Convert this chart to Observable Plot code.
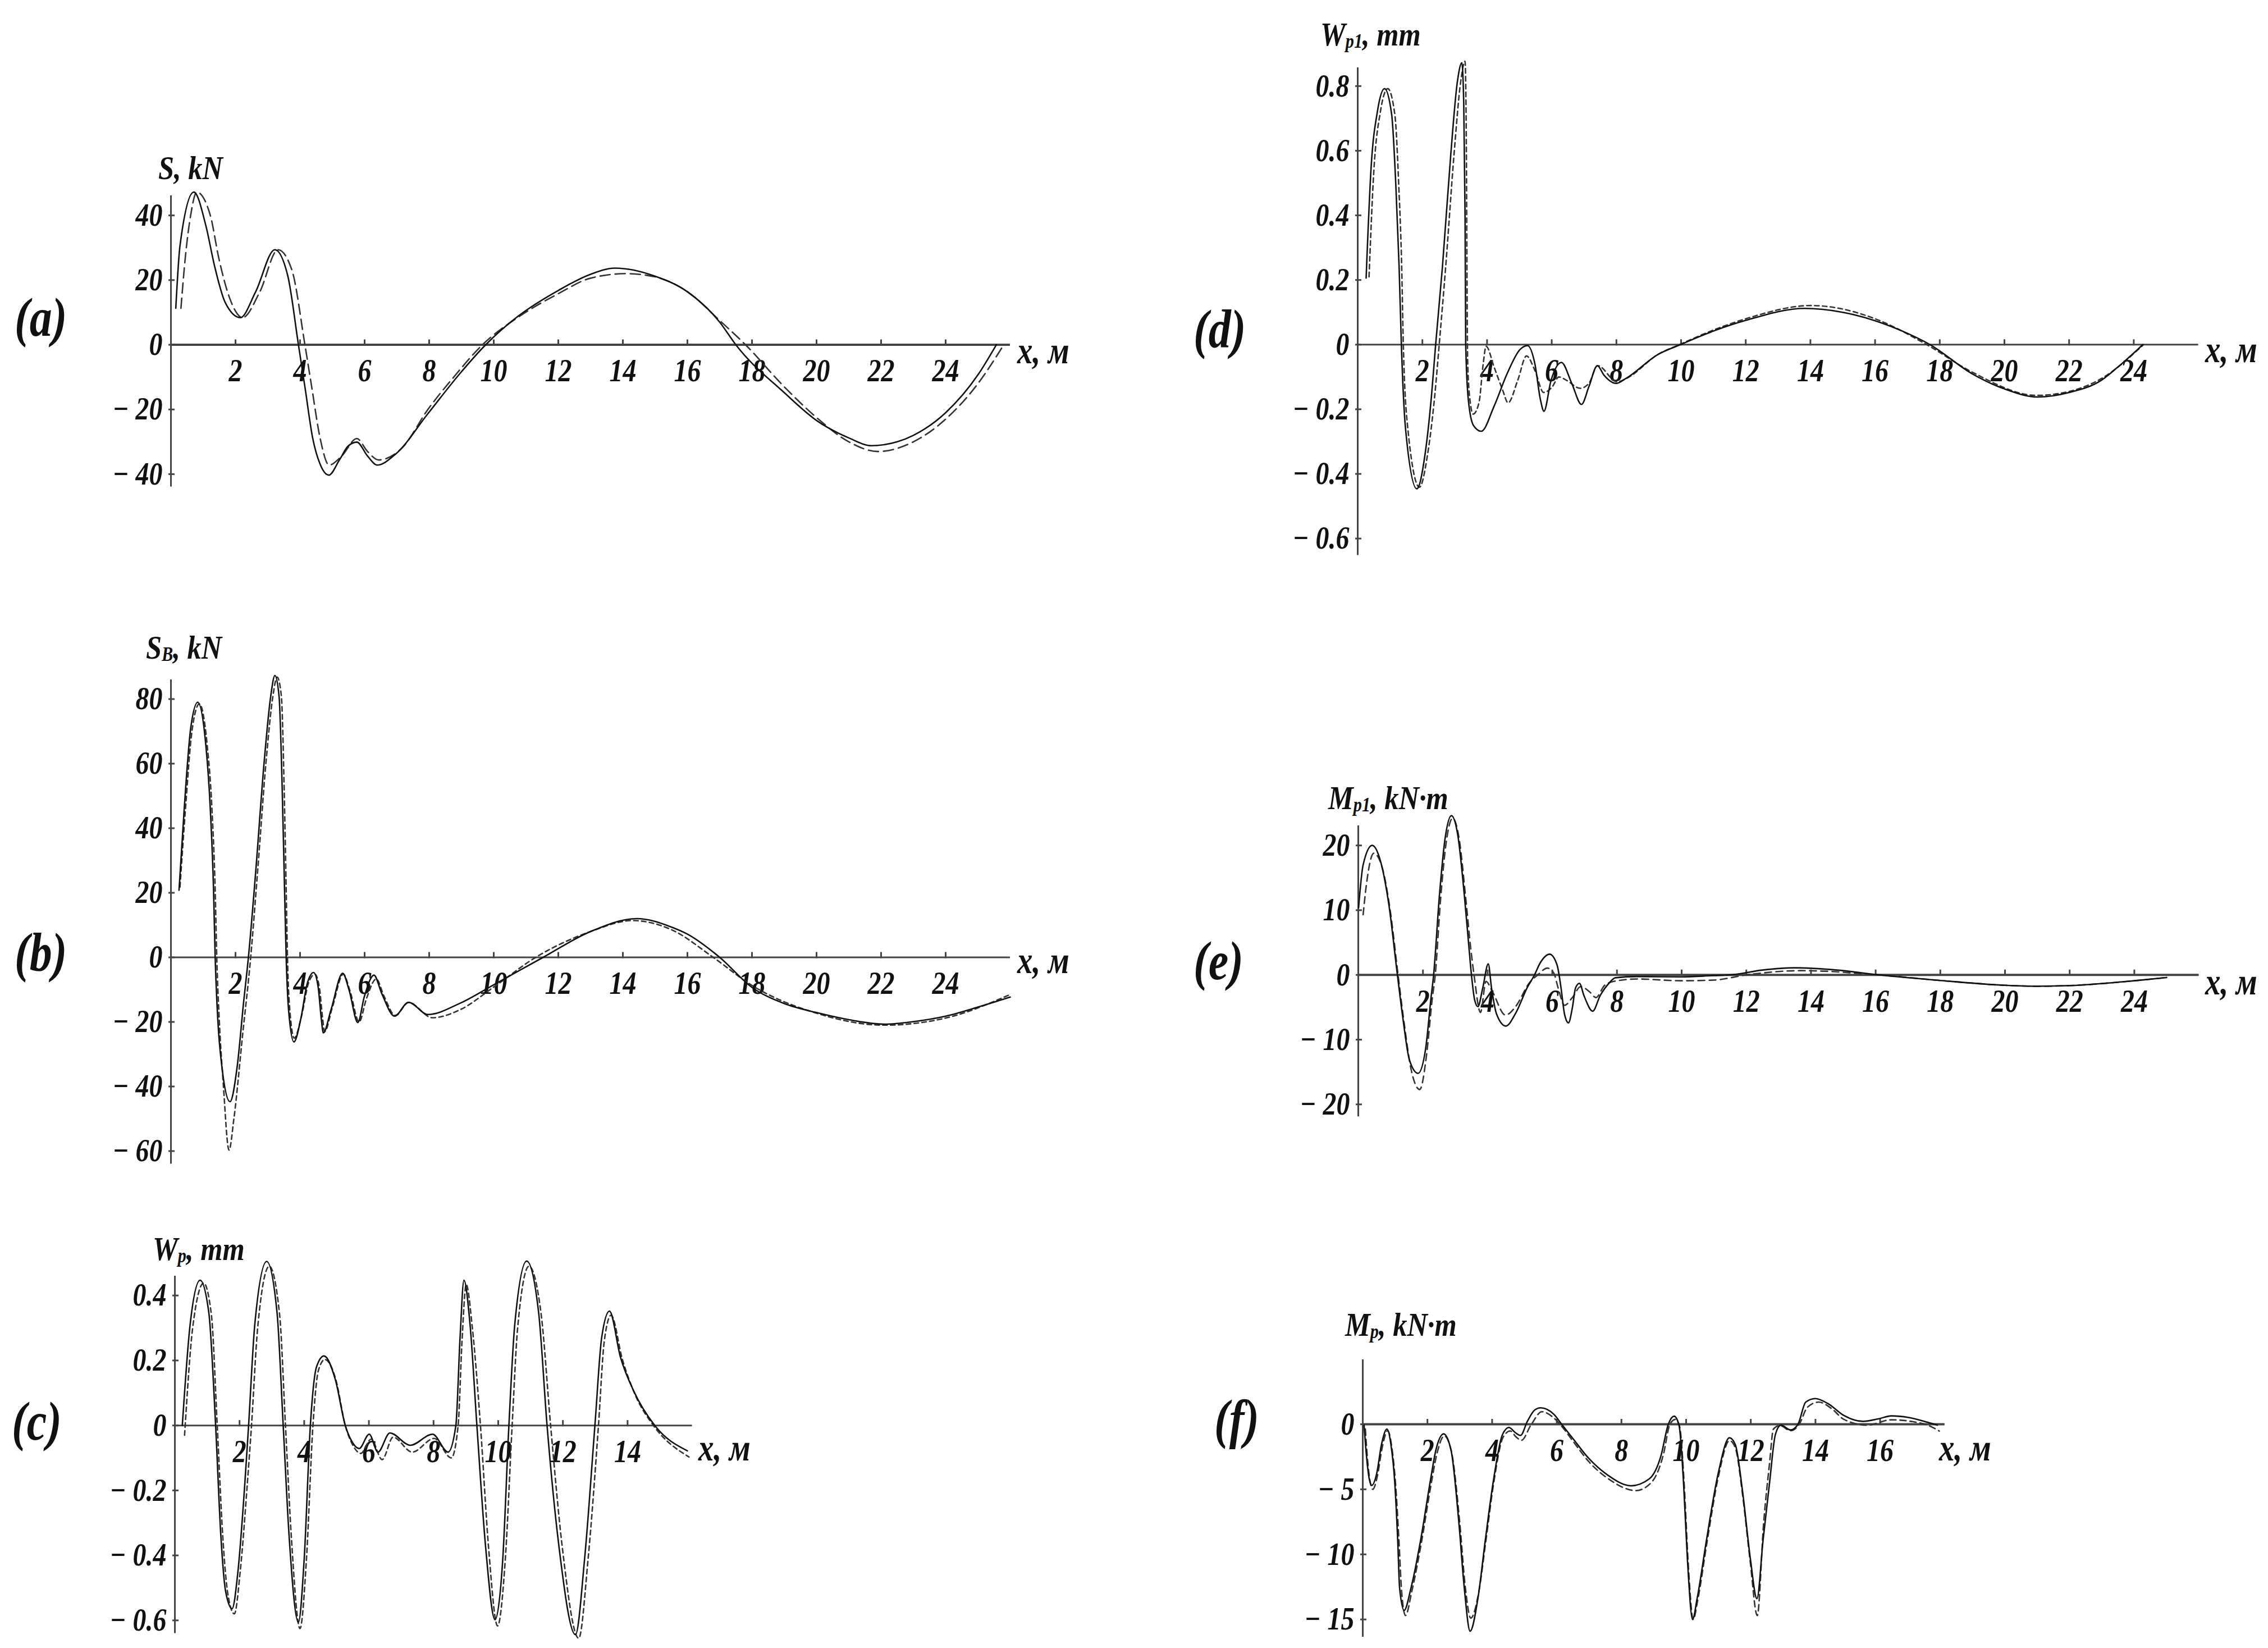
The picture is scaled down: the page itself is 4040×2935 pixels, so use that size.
<!DOCTYPE html>
<html>
<head>
<meta charset="utf-8">
<script src="https://cdn.jsdelivr.net/npm/d3@7"></script>
<script src="https://cdn.jsdelivr.net/npm/@observablehq/plot@0.6"></script>
<style>
  html, body { margin: 0; padding: 0; background: #fff; }
  #root { position: relative; width: 4040px; height: 2935px; background: #fff; overflow: hidden; }
  .lbl { position: absolute; font-family: "Liberation Serif", "DejaVu Serif", serif; font-weight: bold; font-style: italic; line-height: 1; white-space: nowrap; color: #111; transform-origin: 0 84%; }
  .sub { font-size: 0.6em; vertical-align: -0.12em; }
</style>
</head>
<body>
<div id="root"></div>
<script>
// ---------- DATA ----------
// (a) S, kN
const aSolid = [[0.15,11.3],[0.28,30.6],[0.71,47.2],[1.08,36.9],[1.35,24.4],[1.68,13.1],[2.15,8.4],[2.62,16.3],[3.22,29.4],[3.62,21.3],[3.95,0],[4.15,-13],[4.39,-28.8],[4.62,-36.9],[4.89,-40.3],[5.22,-35.6],[5.49,-31.3],[5.76,-30.1],[6.09,-34.4],[6.39,-37.2],[6.96,-33.8],[7.96,-21.3],[8.96,-8.8],[9.75,0],[10.75,8.8],[12,16.8],[13,21.8],[13.75,23.7],[15,21.2],[16,16.4],[17,7],[17.5,0],[19,-14.8],[20,-23.4],[21,-28.8],[21.7,-31.2],[22.5,-30],[23,-28],[24,-21],[25,-9.3],[25.57,0]];
const aDash = [[0.31,11.3],[0.45,27.5],[0.61,40],[0.8,47.2],[1.22,40],[1.48,26.9],[1.82,14.4],[2.22,8.4],[2.75,16.3],[3.32,29.4],[3.75,23],[4.15,0],[4.36,-13],[4.62,-28.8],[4.9,-37.2],[5.29,-34.4],[5.76,-29],[6.09,-33],[6.43,-35.6],[7.16,-31.9],[7.96,-20],[8.76,-10],[9.65,0],[10.75,8.5],[12,15.8],[13,20.6],[14.1,22],[15,21],[16,16.4],[17,7.5],[17.8,0],[19,-13],[20,-22.5],[21,-30],[21.9,-33],[23,-30],[24,-23],[25,-12],[25.8,0]];
const aXTicks = [2,4,6,8,10,12,14,16,18,20,22,24];
const aYTicks = [-40,-20,0,20,40];

// (b) S_B, kN
const bSolid = [[0.25,20.8],[0.41,45.8],[0.61,70.8],[0.83,79],[1.08,65.8],[1.22,45.8],[1.32,20.8],[1.37,0],[1.45,-19],[1.58,-34],[1.83,-44.7],[2.05,-34],[2.25,-14],[2.4,0],[2.62,25.8],[2.89,60.8],[3.09,80.8],[3.22,87.3],[3.35,80.8],[3.45,50.8],[3.52,20.8],[3.57,0],[3.65,-17],[3.81,-26.2],[4.02,-19.2],[4.22,-8.2],[4.42,-4.7],[4.56,-9.2],[4.66,-19.2],[4.72,-23.4],[4.96,-16.2],[5.32,-4.9],[5.52,-10.2],[5.79,-20.2],[5.99,-12.2],[6.29,-5.5],[6.53,-11.2],[6.93,-18.2],[7.36,-13.9],[7.96,-17.7],[8.96,-14.2],[10,-8.5],[11.53,0],[13,8],[14.43,12],[15.5,9.4],[16,7.2],[17,0],[18,-9.3],[19,-14.3],[20,-17.1],[21,-19.3],[22.1,-20.7],[23,-19.9],[24,-18.2],[25,-15.4],[26,-12.3]];
const bDash = [[0.28,21.8],[0.45,46],[0.65,70],[0.88,78.5],[1.12,66],[1.27,46],[1.37,21],[1.42,0],[1.5,-20],[1.62,-39],[1.8,-59.7],[1.95,-50],[2.22,-24],[2.47,0],[2.68,26],[2.95,61],[3.16,81],[3.29,86.8],[3.42,81],[3.51,51],[3.57,21],[3.61,0],[3.68,-16],[3.82,-25],[4.05,-18],[4.26,-8],[4.46,-5.2],[4.6,-9.5],[4.7,-19],[4.76,-23],[5.0,-15.5],[5.34,-5.2],[5.55,-10.5],[5.83,-20],[6.05,-13],[6.36,-6.7],[6.6,-12],[6.95,-18],[7.36,-14],[8.1,-18.7],[8.96,-16.2],[10,-9.2],[11.3,0],[13,8],[14.3,11.4],[15.5,8.6],[16.8,0],[18,-8.7],[20,-17.3],[22.1,-21],[24,-18.8],[26,-11.5]];
const bXTicks = [2,4,6,8,10,12,14,16,18,20,22,24];
const bYTicks = [-60,-40,-20,0,20,40,60,80];

// (c) W_p, mm
const cSolid = [[0.23,0],[0.47,0.309],[0.78,0.447],[1.05,0.347],[1.26,0],[1.42,-0.336],[1.57,-0.511],[1.77,-0.564],[1.95,-0.45],[2.16,-0.184],[2.28,0],[2.47,0.309],[2.84,0.505],[3.16,0.347],[3.35,0],[3.53,-0.336],[3.82,-0.606],[4.0,-0.41],[4.19,0],[4.38,0.18],[4.61,0.214],[4.96,0.142],[5.27,0],[5.45,-0.045],[5.7,-0.071],[6.01,-0.027],[6.28,-0.082],[6.65,-0.023],[7.28,-0.061],[7.97,-0.027],[8.45,-0.082],[8.69,0],[8.82,0.271],[8.94,0.447],[9.13,0.309],[9.34,0],[9.61,-0.374],[9.9,-0.598],[10.14,-0.412],[10.33,0],[10.51,0.309],[10.88,0.506],[11.25,0.347],[11.51,0],[11.88,-0.374],[12.39,-0.644],[12.67,-0.412],[12.99,0],[13.2,0.271],[13.44,0.352],[13.78,0.21],[14.2,0.104],[14.84,0],[15.85,-0.078]];
const cDash = [[0.3,-0.03],[0.55,0.3],[0.89,0.438],[1.13,0.34],[1.31,0],[1.48,-0.34],[1.64,-0.52],[1.84,-0.58],[2.02,-0.45],[2.24,-0.18],[2.37,0],[2.56,0.3],[2.92,0.49],[3.24,0.34],[3.42,0],[3.6,-0.34],[3.87,-0.625],[4.07,-0.41],[4.27,0],[4.44,0.17],[4.64,0.203],[4.98,0.14],[5.27,0],[5.5,-0.06],[5.75,-0.086],[6.07,-0.042],[6.41,-0.105],[6.75,-0.036],[7.34,-0.082],[8.02,-0.04],[8.55,-0.1],[8.76,0],[8.88,0.26],[9.01,0.434],[9.2,0.3],[9.45,0],[9.7,-0.374],[9.98,-0.617],[10.22,-0.41],[10.43,0],[10.6,0.3],[10.95,0.49],[11.33,0.34],[11.62,0],[11.98,-0.374],[12.49,-0.655],[12.78,-0.41],[13.1,0],[13.28,0.26],[13.49,0.339],[13.84,0.203],[14.26,0.089],[14.8,0],[15.9,-0.097]];
const cXTicks = [2,4,6,8,10,12,14];
const cYTicks = [-0.6,-0.4,-0.2,0,0.2,0.4];

// (d) W_p1, mm
const dSolid = [[0.26,0.206],[0.41,0.541],[0.61,0.722],[0.83,0.792],[1.05,0.712],[1.18,0.491],[1.28,0.241],[1.35,0],[1.48,-0.261],[1.83,-0.446],[2.08,-0.341],[2.28,-0.16],[2.41,0],[2.62,0.241],[2.88,0.591],[3.08,0.812],[3.22,0.872],[3.28,0.742],[3.32,0.391],[3.34,0],[3.42,-0.17],[3.58,-0.25],[3.82,-0.268],[4.22,-0.19],[4.62,-0.09],[5.02,-0.015],[5.25,-0.003],[5.48,-0.06],[5.65,-0.17],[5.76,-0.206],[5.98,-0.11],[6.3,-0.055],[6.62,-0.12],[6.92,-0.185],[7.15,-0.13],[7.41,-0.065],[7.62,-0.095],[7.99,-0.12],[8.29,-0.105],[9.29,-0.03],[9.98,0],[11,0.042],[12,0.075],[13.82,0.112],[15,0.1],[16,0.074],[17,0.035],[17.7,0],[19,-0.09],[20,-0.137],[21.04,-0.162],[22,-0.148],[23,-0.11],[23.5,-0.07],[24.28,0]];
const dDash = [[0.35,0.21],[0.5,0.54],[0.7,0.72],[0.93,0.792],[1.15,0.71],[1.27,0.49],[1.36,0.24],[1.41,0],[1.55,-0.26],[1.91,-0.441],[2.16,-0.34],[2.38,-0.16],[2.52,0],[2.72,0.24],[2.98,0.59],[3.18,0.81],[3.32,0.877],[3.36,0.6],[3.38,0.2],[3.4,-0.05],[3.47,-0.17],[3.57,-0.215],[3.75,-0.18],[3.88,-0.06],[3.97,-0.005],[4.22,-0.07],[4.48,-0.14],[4.65,-0.18],[4.95,-0.11],[5.22,-0.035],[5.48,-0.08],[5.75,-0.148],[6.02,-0.13],[6.22,-0.1],[6.45,-0.11],[6.88,-0.135],[7.15,-0.12],[7.42,-0.065],[8.02,-0.115],[8.3,-0.105],[9.29,-0.03],[9.95,0],[11,0.045],[12,0.08],[14.03,0.121],[15,0.11],[16,0.08],[17.6,0],[19,-0.085],[21,-0.157],[22,-0.145],[23,-0.105],[24.3,0]];
const dXTicks = [2,4,6,8,10,12,14,16,18,20,22,24];
const dYTicks = [-0.6,-0.4,-0.2,0,0.2,0.4,0.6,0.8];

// (e) M_p1, kN·m
const eSolid = [[0.01,10.4],[0.15,17],[0.43,20],[0.68,17.7],[0.95,10.7],[1.21,0],[1.38,-6.7],[1.58,-13.1],[1.85,-15.2],[2.08,-11.5],[2.25,-3.5],[2.33,0],[2.51,12.3],[2.68,20.9],[2.88,24.6],[3.08,21.5],[3.28,12.3],[3.42,4.4],[3.5,0],[3.6,-3.9],[3.7,-4.9],[3.85,-2],[4.02,1.7],[4.12,-2],[4.28,-6.1],[4.56,-7.9],[4.88,-5.8],[5.22,-2],[5.45,0],[5.62,1.8],[5.92,3.2],[6.15,1.5],[6.27,-2],[6.38,-6.1],[6.5,-7.4],[6.62,-5.1],[6.72,-2],[6.84,-1.3],[6.98,-3.2],[7.25,-5.6],[7.48,-3.2],[7.75,-1.3],[7.95,-0.44],[8.62,-0.25],[10,-0.3],[11,-0.1],[11.5,0],[12.5,0.75],[13.5,1.1],[14.8,0.75],[16.1,0],[18,-0.86],[20,-1.6],[21,-1.75],[22,-1.65],[24,-0.9],[25,-0.4]];
const eDash = [[0.15,9.3],[0.25,13.9],[0.48,18.8],[0.75,16.4],[1.0,9.5],[1.23,0],[1.42,-7.5],[1.63,-14.5],[1.9,-17.7],[2.12,-12],[2.28,-4],[2.38,0],[2.55,12],[2.72,20.5],[2.92,24.2],[3.12,21],[3.32,12],[3.48,4],[3.58,0],[3.78,-5.8],[3.95,-1],[4.15,-2.6],[4.55,-6.2],[4.88,-4.8],[5.28,-1.3],[5.55,0],[5.85,1.05],[6.05,0.25],[6.18,-2],[6.38,-4.7],[6.62,-3.5],[6.88,-1.8],[7.15,-2.6],[7.35,-3.5],[7.62,-1.6],[7.95,-0.95],[8.62,-0.63],[10,-0.9],[11,-0.8],[12,0],[13.7,0.66],[16.1,0],[18,-0.86],[20,-1.6],[21,-1.75],[22,-1.65],[24,-0.9],[25,-0.4]];
const eXTicks = [2,4,6,8,10,12,14,16,18,20,22,24];
const eYTicks = [-20,-10,0,10,20];

// (f) M_p, kN·m
const fSolid = [[0.04,-0.07],[0.11,-2.3],[0.2,-4.2],[0.28,-4.7],[0.43,-3.8],[0.58,-1.55],[0.75,-0.37],[0.87,-1.55],[0.99,-4.5],[1.08,-8.9],[1.14,-12.6],[1.28,-14.3],[1.49,-12.6],[1.79,-8.9],[2.08,-4.5],[2.26,-2.0],[2.5,-0.74],[2.73,-2.0],[2.97,-7.5],[3.14,-12.6],[3.32,-15.9],[3.56,-13.4],[3.79,-8.9],[4.03,-4.5],[4.32,-0.8],[4.52,-0.25],[4.73,-0.67],[4.88,-0.86],[5.09,0.22],[5.32,1.1],[5.5,1.26],[5.92,0.74],[6.15,0],[6.5,-1.1],[6.98,-2.6],[7.57,-3.9],[8.3,-4.73],[8.86,-4.2],[9.22,-2.44],[9.45,0],[9.63,0.62],[9.78,-0.07],[9.92,-4.5],[10.04,-10.4],[10.2,-15.0],[10.34,-13.4],[10.63,-8.9],[10.99,-3.8],[11.34,-1.04],[11.52,-1.55],[11.75,-5.25],[11.99,-10.4],[12.19,-13.4],[12.38,-8.9],[12.58,-4.5],[12.76,-0.8],[12.93,-0.07],[13.23,-0.44],[13.46,0],[13.7,1.7],[13.99,1.97],[14.41,1.55],[14.88,0.67],[15.47,0.22],[15.94,0.41],[16.35,0.64],[16.88,0.52],[17.47,0.15],[17.77,-0.07]];
const fDash = [[0.08,-0.37],[0.15,-2.8],[0.31,-5.0],[0.45,-4],[0.6,-1.8],[0.77,-0.5],[0.9,-1.8],[1.02,-4.8],[1.12,-9],[1.2,-12.8],[1.32,-14.7],[1.52,-12.8],[1.82,-9],[2.1,-4.8],[2.3,-2.2],[2.52,-0.9],[2.75,-2.2],[3.0,-7.6],[3.17,-12.5],[3.34,-14.9],[3.58,-13],[3.81,-8.9],[4.05,-4.5],[4.34,-1],[4.56,-0.52],[4.75,-1],[4.91,-1.23],[5.2,-0.07],[5.54,0.96],[5.9,0.5],[6.15,-0.15],[6.5,-1.3],[7,-2.9],[7.6,-4.2],[8.45,-5.1],[8.95,-4.4],[9.3,-2.3],[9.5,0],[9.67,0.37],[9.8,-0.2],[9.94,-4.6],[10.06,-10.5],[10.22,-15.0],[10.36,-13.5],[10.65,-9],[11.0,-4],[11.34,-1.26],[11.52,-1.8],[11.75,-5.5],[11.98,-10.5],[12.2,-14.7],[12.4,-7.5],[12.58,-3],[12.7,-0.37],[12.9,-0.1],[13.23,-0.5],[13.5,0],[13.75,1.3],[14.1,1.7],[14.5,1.2],[14.88,0.37],[15.6,-0.07],[16.35,0.34],[17.0,0.2],[17.5,-0.1],[17.83,-0.52]];
const fXTicks = [2,4,6,8,10,12,14,16];
const fYTicks = [-15,-10,-5,0];

// ---------- LAYOUT (pixel geometry of each panel, styles) ----------
const FONT = "Liberation Serif";
const panels = [
  {id:"a", solid:aSolid, dash:aDash, xt:aXTicks, yt:aYTicks, x0:304, y0:613.5, kx:57.5, ky:5.76, xmax:26, ymin:-43.9, ymax:46.1, dashArr:"18,9", axisW:4,
   ylab:'S, kN', ylabX:282, ylabB:320, xlabX:1812, xlabB:648, plab:"(a)", plX:26, plB:598},
  {id:"b", solid:bSolid, dash:bDash, xt:bXTicks, yt:bYTicks, x0:304, y0:1704, kx:57.5, ky:5.75, xmax:26, ymin:-64, ymax:86, dashArr:"8,6", axisW:3,
   ylab:'S<span class="sub">B</span>, kN', ylabX:260, ylabB:1174, xlabX:1812, xlabB:1734, plab:"(b)", plX:26, plB:1729},
  {id:"c", solid:cSolid, dash:cDash, xt:cXTicks, yt:cYTicks, x0:311, y0:2538.5, kx:57.6, ky:578.6, xmax:16, ymin:-0.64, ymax:0.46, dashArr:"8,6", axisW:3,
   ylab:'W<span class="sub">p</span>, mm', ylabX:272, ylabB:2245, xlabX:1244, xlabB:2602, plab:"(c)", plX:21, plB:2564},
  {id:"d", solid:dSolid, dash:dDash, xt:dXTicks, yt:dYTicks, x0:2418, y0:613.5, kx:57.6, ky:575.6, xmax:26, ymin:-0.652, ymax:0.857, dashArr:"8,6", axisW:3,
   ylab:'W<span class="sub">p1</span>, mm', ylabX:2352, ylabB:82, xlabX:3928, xlabB:646, plab:"(d)", plX:2126, plB:619},
  {id:"e", solid:eSolid, dash:eDash, xt:eXTicks, yt:eYTicks, x0:2419, y0:1736, kx:57.6, ky:11.53, xmax:26, ymin:-21.9, ymax:23.05, dashArr:"12,8", axisW:4,
   ylab:'M<span class="sub">p1</span>, kN·m', ylabX:2366, ylabB:1442, xlabX:3928, xlabB:1772, plab:"(e)", plX:2126, plB:1744},
  {id:"f", solid:fSolid, dash:fDash, xt:fXTicks, yt:fYTicks, x0:2427, y0:2535.5, kx:57.6, ky:23.18, xmax:18, ymin:-16.35, ymax:4.96, dashArr:"11,7", axisW:4,
   ylab:'M<span class="sub">p</span>, kN·m', ylabX:2396, ylabB:2380, xlabX:3454, xlabB:2602, plab:"(f)", plX:2163, plB:2560}
];

const root = document.getElementById("root");
const ML = 260, MR = 60, MT = 70, MB = 90;
const tickFont = {fontFamily: FONT, fontWeight: "bold", fontStyle: "italic", fontSize: 50, fill: "#111"};
const fmtY = d => d < 0 ? "\u2212 " + String(Math.abs(d)) : String(d);

function addLabel(html, left, baseline, size, sx, sy) {
  const el = document.createElement("div");
  el.className = "lbl";
  el.style.fontSize = size + "px";
  el.style.left = left + "px";
  el.style.top = (baseline - 0.84 * size) + "px";
  el.style.transform = `scale(${sx}, ${sy})`;
  el.innerHTML = html;
  root.appendChild(el);
}

for (const p of panels) {
  const frameW = p.xmax * p.kx;
  const frameH = (p.ymax - p.ymin) * p.ky;
  const yTop = p.y0 - p.ymax * p.ky;
  const svg = Plot.plot({
    width: frameW + ML + MR,
    height: frameH + MT + MB,
    marginLeft: ML, marginRight: MR, marginTop: MT, marginBottom: MB,
    x: {domain: [0, p.xmax], axis: null},
    y: {domain: [p.ymin, p.ymax], axis: null},
    style: {background: "transparent", overflow: "visible", maxWidth: "none"},
    marks: [
      Plot.ruleX([0], {stroke: "#444", strokeWidth: 3}),
      Plot.ruleY([0], {stroke: "#444", strokeWidth: p.axisW}),
      Plot.ruleX(p.xt, {x: d => d, y1: () => 0, y2: () => 0, insetTop: -9, insetBottom: -2, stroke: "#444", strokeWidth: 3}),
      Plot.ruleY(p.yt, {y: d => d, x1: () => 0, x2: () => 0, insetLeft: -4, insetRight: -7, stroke: "#444", strokeWidth: 3}),
      Plot.text(p.xt, {x: d => d, y: () => 0, text: d => String(d), dy: 47, lineAnchor: "middle", ...tickFont}),
      Plot.text(p.yt, {x: () => 0, y: d => d, text: fmtY, dx: -15, textAnchor: "end", lineAnchor: "middle", ...tickFont}),
      Plot.line(p.dash, {x: d => d[0], y: d => d[1], curve: "monotone-x", stroke: "#333", strokeWidth: 2.6, strokeDasharray: p.dashArr}),
      Plot.line(p.solid, {x: d => d[0], y: d => d[1], curve: "monotone-x", stroke: "#111", strokeWidth: 2.6})
    ]
  });
  // slightly taller glyphs, like the reference's condensed bold italic digits
  svg.querySelectorAll("text").forEach(t => {
    const tr = t.getAttribute("transform") || "";
    t.setAttribute("transform", tr + " scale(0.96,1.14)");
  });
  svg.style.position = "absolute";
  svg.style.left = (p.x0 - ML) + "px";
  svg.style.top = (yTop - MT) + "px";
  root.appendChild(svg);

  addLabel(p.ylab, p.ylabX, p.ylabB, 52, 0.97, 1.15);
  addLabel("x, м", p.xlabX, p.xlabB, 58, 0.95, 1.15);
  addLabel(p.plab, p.plX, p.plB, 80, 1.0, 1.22);
}
</script>
</body>
</html>
